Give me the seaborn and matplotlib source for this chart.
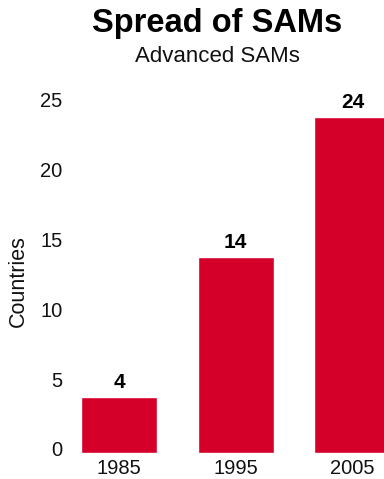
import matplotlib
matplotlib.use("Agg")
import matplotlib.pyplot as plt
import matplotlib.transforms as mtransforms
import seaborn as sns
import pandas as pd

years = ["1985", "1995", "2005"]
countries = [4, 14, 24]
yticks = [0, 5, 10, 15, 20, 25]
title = "Spread of SAMs"
subtitle = "Advanced SAMs"
ylabel = "Countries"
bar_color = "#D40029"

sns.set_theme(style="white")
plt.rcParams["font.family"] = ["Liberation Sans", "DejaVu Sans"]

W, H = 384, 479
fig = plt.figure(figsize=(W / 100, H / 100), dpi=100)
ax_left, ax_right = 75, 384
ax_top, ax_bottom = 103, 452.5
ax = fig.add_axes([ax_left / W, (H - ax_bottom) / H,
                   (ax_right - ax_left) / W, (ax_bottom - ax_top) / H])

df = pd.DataFrame({"year": years, "countries": countries})
sns.barplot(data=df, x="year", y="countries", order=years, color=bar_color,
            saturation=1, width=0.65, ax=ax)

ax.set_xlim(-0.377, 2.271)
ax.set_ylim(0, 25)
ax.set_yticks(yticks)
for s in ax.spines.values():
    s.set_visible(False)
ax.tick_params(axis="both", length=0, labelsize=14.5, colors="#111111")
ax.tick_params(axis="y", pad=9)
ax.tick_params(axis="x", pad=5)
ax.set_xlabel("")
ax.set_ylabel(ylabel, fontsize=15.5, color="#111111")
ax.yaxis.set_label_coords(-0.15, 0.49)

offset = mtransforms.ScaledTranslation(0, 3.5 / 100, fig.dpi_scale_trans)
for lab in ax.get_yticklabels():
    lab.set_transform(lab.get_transform() + offset)

for i, v in enumerate(countries):
    ax.annotate(str(v), xy=(i, v), xytext=(0, 3.5), textcoords="offset points",
                ha="center", va="bottom", fontsize=15, fontweight="bold",
                color="black")

fig.text(217 / W, 1 - 32 / H, title, ha="center", va="baseline",
         fontsize=23.5, fontweight="bold", color="black")
fig.text(217 / W, 1 - 62 / H, subtitle, ha="center", va="baseline",
         fontsize=16, color="#111111")

fig.savefig("out.png", dpi=100)
